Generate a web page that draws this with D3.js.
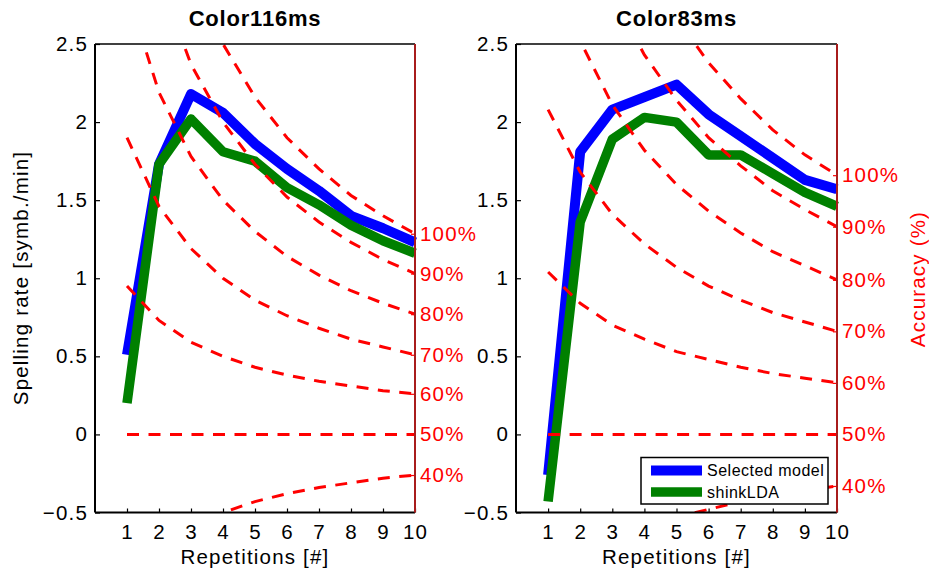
<!DOCTYPE html>
<html>
<head>
<meta charset="utf-8">
<script src="https://cdn.jsdelivr.net/npm/d3@7"></script>
<style>
  body { margin: 0; background: #fff; }
  text { font-family: "Liberation Sans", Arial, Helvetica, sans-serif; }
</style>
</head>
<body>
<svg id="chart" width="929" height="574"></svg>
<script>
// ---- data ----
const repetitions = [1, 2, 3, 4, 5, 6, 7, 8, 9, 10];
const rateTicks = [-0.5, 0, 0.5, 1, 1.5, 2, 2.5];
const accuracyLevels = [40, 50, 60, 70, 80, 90, 100];
const panelTitles = ["Color116ms", "Color83ms"];
const seriesNames = ["Selected model", "shinkLDA"];

// spelling rate [symb./min] per number of repetitions
const selected116 = [0.51, 1.73, 2.18, 2.06, 1.86, 1.70, 1.56, 1.40, 1.32, 1.23];
const shrink116   = [0.20, 1.73, 2.02, 1.81, 1.75, 1.58, 1.47, 1.34, 1.24, 1.16];
const selected83  = [-0.26, 1.81, 2.08, 2.16, 2.24, 2.05, 1.91, 1.77, 1.63, 1.57];
const shrink83    = [-0.43, 1.36, 1.89, 2.03, 2.00, 1.79, 1.79, 1.67, 1.55, 1.46];

// iso-accuracy reference curves, one row per entry of accuracyLevels
const iso116 = [
  [-0.95, -0.73, -0.59, -0.50, -0.43, -0.38, -0.34, -0.31, -0.28, -0.26],
  [0, 0, 0, 0, 0, 0, 0, 0, 0, 0],
  [0.95, 0.73, 0.59, 0.50, 0.43, 0.38, 0.34, 0.31, 0.28, 0.26],
  [1.90, 1.46, 1.19, 1.00, 0.86, 0.76, 0.68, 0.61, 0.56, 0.51],
  [2.84, 2.19, 1.78, 1.50, 1.30, 1.14, 1.02, 0.92, 0.84, 0.77],
  [3.79, 2.92, 2.37, 2.00, 1.73, 1.52, 1.36, 1.23, 1.12, 1.03],
  [4.74, 3.65, 2.97, 2.50, 2.16, 1.90, 1.70, 1.53, 1.40, 1.285]
];
const iso83 = [
  [-1.04, -0.84, -0.70, -0.61, -0.53, -0.48, -0.43, -0.39, -0.36, -0.33],
  [0, 0, 0, 0, 0, 0, 0, 0, 0, 0],
  [1.04, 0.84, 0.70, 0.61, 0.53, 0.48, 0.43, 0.39, 0.36, 0.33],
  [2.08, 1.68, 1.41, 1.22, 1.07, 0.95, 0.86, 0.78, 0.72, 0.66],
  [3.11, 2.52, 2.11, 1.82, 1.60, 1.43, 1.29, 1.17, 1.08, 0.99],
  [4.15, 3.36, 2.82, 2.43, 2.14, 1.90, 1.72, 1.56, 1.44, 1.33],
  [5.19, 4.20, 3.52, 3.04, 2.67, 2.38, 2.15, 1.95, 1.79, 1.66]
];

// ---- layout ----
const svg = d3.select("#chart");
const plotTop = 44, plotBottom = 512.5;
const panels = [
  { x0: 95, x1: 415, title: panelTitles[0], sel: selected116, shr: shrink116, iso: iso116, legend: false, leftLabel: true, rightLabel: false },
  { x0: 516, x1: 837, title: panelTitles[1], sel: selected83, shr: shrink83, iso: iso83, legend: true, leftLabel: false, rightLabel: true }
];
const colors = { selected: "#0000ff", shrink: "#008000", iso: "#ff0000", rightAxis: "#a81c1c" };
const FS = 20.5, LS = "1.2px";

const y = d3.scaleLinear().domain([-0.5, 2.5]).range([plotBottom, plotTop]);

panels.forEach((p, pi) => {
  const x = d3.scaleLinear().domain([0, 10]).range([p.x0, p.x1]);
  const g = svg.append("g");

  const clipId = "clip" + pi;
  svg.append("defs").append("clipPath").attr("id", clipId)
    .append("rect").attr("x", p.x0).attr("y", plotTop).attr("width", p.x1 - p.x0).attr("height", plotBottom - plotTop);

  const line = d3.line().x((d, i) => x(repetitions[i])).y(d => y(d));

  // data series
  g.append("path").datum(p.sel).attr("d", line)
    .attr("fill", "none").attr("stroke", colors.selected).attr("stroke-width", 10)
    .attr("stroke-linejoin", "round").attr("stroke-linecap", "butt");
  g.append("path").datum(p.shr).attr("d", line)
    .attr("fill", "none").attr("stroke", colors.shrink).attr("stroke-width", 9.5)
    .attr("stroke-linejoin", "round").attr("stroke-linecap", "butt");

  // iso-accuracy dashed curves
  g.append("g").attr("clip-path", `url(#${clipId})`)
    .selectAll("path").data(p.iso).join("path")
    .attr("d", line)
    .attr("fill", "none").attr("stroke", colors.iso).attr("stroke-width", 3)
    .attr("stroke-dasharray", "12,9.5");

  // left axis
  const yAxis = g.append("g").attr("transform", `translate(${p.x0},0)`)
    .call(d3.axisLeft(y).tickValues(rateTicks).tickSize(-5).tickPadding(7)
      .tickFormat(d => String(d).replace("-", "\u2212")));
  yAxis.select(".domain").remove();
  yAxis.selectAll("line").attr("stroke", "#000").attr("stroke-width", 1.2);
  yAxis.selectAll("text").attr("font-size", FS).attr("fill", "#000")
    .style("letter-spacing", LS);
  yAxis.attr("font-family", null).attr("font-size", null);

  // bottom axis
  const xAxis = g.append("g").attr("transform", `translate(0,${plotBottom})`)
    .call(d3.axisBottom(x).tickValues(repetitions).tickSize(-4).tickPadding(12));
  xAxis.select(".domain").remove();
  xAxis.selectAll("line").attr("stroke", "#000").attr("stroke-width", 1.2);
  xAxis.selectAll("text").attr("font-size", FS).attr("fill", "#000")
    .style("letter-spacing", LS);
  xAxis.attr("font-family", null).attr("font-size", null);

  // right accuracy axis, ticks at the end of each iso curve
  const endVals = p.iso.map(r => r[r.length - 1]);
  const rAxis = g.append("g").attr("transform", `translate(${p.x1},0)`)
    .call(d3.axisRight(y).tickValues(endVals).tickSize(-4).tickPadding(5)
      .tickFormat((d, i) => accuracyLevels[i] + "%"));
  rAxis.select(".domain").remove();
  rAxis.selectAll("line").attr("stroke", colors.iso).attr("stroke-width", 1.2);
  rAxis.selectAll("text").attr("font-size", FS).attr("fill", colors.iso)
    .style("letter-spacing", LS);
  rAxis.attr("font-family", null).attr("font-size", null);

  // frame
  g.append("line").attr("x1", p.x0).attr("x2", p.x1).attr("y1", plotTop).attr("y2", plotTop)
    .attr("stroke", "#000").attr("stroke-width", 1.3);
  g.append("line").attr("x1", p.x0).attr("x2", p.x1).attr("y1", plotBottom).attr("y2", plotBottom)
    .attr("stroke", "#000").attr("stroke-width", 2);
  g.append("line").attr("x1", p.x0).attr("x2", p.x0).attr("y1", plotTop).attr("y2", plotBottom)
    .attr("stroke", "#000").attr("stroke-width", 2);
  g.append("line").attr("x1", p.x1).attr("x2", p.x1).attr("y1", plotTop).attr("y2", plotBottom)
    .attr("stroke", colors.rightAxis).attr("stroke-width", 2);

  // title
  g.append("text").attr("x", (p.x0 + p.x1) / 2).attr("y", 26)
    .attr("text-anchor", "middle").attr("font-size", 22).attr("font-weight", "bold")
    .style("letter-spacing", "0.8px").text(p.title);

  // x label
  g.append("text").attr("x", (p.x0 + p.x1) / 2).attr("y", 564)
    .attr("text-anchor", "middle").attr("font-size", FS).style("letter-spacing", LS)
    .text("Repetitions [#]");

  if (p.leftLabel) {
    g.append("text").attr("transform", "translate(28,278) rotate(-90)")
      .attr("text-anchor", "middle").attr("font-size", FS).style("letter-spacing", LS)
      .text("Spelling rate [symb./min]");
  }
  if (p.rightLabel) {
    g.append("text").attr("transform", "translate(925,279) rotate(-90)")
      .attr("text-anchor", "middle").attr("font-size", FS).attr("fill", colors.iso)
      .style("letter-spacing", LS).text("Accuracy (%)");
  }

  if (p.legend) {
    const lx0 = p.x1 - 196, lx1 = p.x1 - 9, ly0 = plotBottom - 55, ly1 = plotBottom - 8.5;
    const lg = g.append("g");
    lg.append("rect").attr("x", lx0).attr("y", ly0).attr("width", lx1 - lx0).attr("height", ly1 - ly0)
      .attr("fill", "#fff").attr("stroke", "#000").attr("stroke-width", 1.5);
    const entries = [
      { name: seriesNames[0], color: colors.selected, w: 10 },
      { name: seriesNames[1], color: colors.shrink, w: 9.5 }
    ];
    entries.forEach((e, i) => {
      const cy = ly0 + 13 + i * 21.5;
      lg.append("line").attr("x1", lx0 + 10).attr("x2", lx0 + 61).attr("y1", cy).attr("y2", cy)
        .attr("stroke", e.color).attr("stroke-width", e.w);
      lg.append("text").attr("x", lx0 + 66).attr("y", cy).attr("dy", "0.35em")
        .attr("font-size", 16).style("letter-spacing", "0.5px").text(e.name);
    });
  }
});
</script>
</body>
</html>
